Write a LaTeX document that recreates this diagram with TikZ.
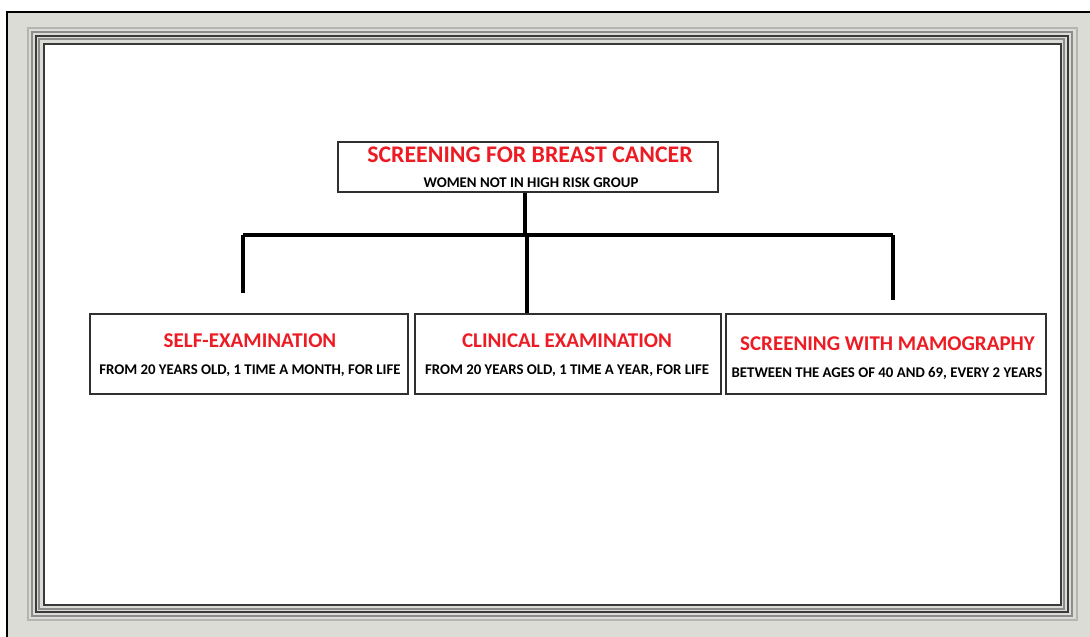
\documentclass[tikz,border=0pt]{standalone}
\usepackage{fontspec}
\setmainfont{Carlito}
\definecolor{headred}{HTML}{ED1C24}
\definecolor{boxline}{HTML}{303030}
\definecolor{framebg}{HTML}{DCDCD6}
\definecolor{framedark}{HTML}{3A3A3A}
\definecolor{framemid}{HTML}{8C8C8C}
\definecolor{framelight}{HTML}{B4B4B0}
\begin{document}
\begin{tikzpicture}[x=1pt,y=-1pt,
  box/.style={draw=boxline, line width=2pt, fill=white, inner sep=0pt},
  ttl/.style={anchor=base, inner sep=0pt, text=headred,
    font=\fontsize{21}{25}\selectfont\bfseries},
  bigttl/.style={ttl, font=\fontsize{23.8}{28}\selectfont\bfseries},
  sub/.style={anchor=base, inner sep=0pt,
    font=\fontsize{14.8}{17}\selectfont\bfseries},
  link/.style={draw=black, line width=3.5pt}]
\useasboundingbox (0,0) rectangle (1090,637);
% page frame
\fill[framebg] (7,12) rectangle (1090,637);
\draw[black, line width=1.2pt] (7,637) -- (7,12) -- (1090,12);
\draw[framelight, line width=1.5pt] (28,28) rectangle (1077,620);
\draw[framemid, line width=1.5pt] (32,32) rectangle (1072,616);
\draw[framedark, line width=1.5pt] (36,36) rectangle (1068,612);
\draw[framemid, line width=1.2pt] (39,39) rectangle (1064,609);
\fill[white] (44,44) rectangle (1061,605);
\draw[framedark, line width=2pt] (44,44) rectangle (1061,605);
% boxes
\node[box, minimum width=380, minimum height=50] (top) at (528,167) {};
\node[box, minimum width=318, minimum height=80] (self) at (249,354) {};
\node[box, minimum width=306, minimum height=80] (clin) at (568,354) {};
\node[box, minimum width=320, minimum height=80] (mamo) at (886,354) {};
% box texts
\node[bigttl] (topT) at (530,162.5) {SCREENING FOR BREAST CANCER};
\node[sub] (topS) at (531,187.7) {WOMEN NOT IN HIGH RISK GROUP};
\node[ttl] (selfT) at (250,347.6) {SELF-EXAMINATION};
\node[sub] (selfS) at (250,374.7) {FROM 20 YEARS OLD, 1 TIME A MONTH, FOR LIFE};
\node[ttl] (clinT) at (567,347.6) {CLINICAL EXAMINATION};
\node[sub] (clinS) at (567,374.7) {FROM 20 YEARS OLD, 1 TIME A YEAR, FOR LIFE};
\node[ttl] (mamoT) at (887.5,350.6) {SCREENING WITH MAMOGRAPHY};
\node[sub] (mamoS) at (887,377.7) {BETWEEN THE AGES OF 40 AND 69, EVERY 2 YEARS};
% connectors
\coordinate (busL) at (243,235);
\coordinate (busR) at (893,235);
\coordinate (busM) at (527,235);
\coordinate (dropL) at (243,293);
\coordinate (dropR) at (893,300);
\draw[link] (top.south -| 525,0) -- (525,235);
\draw[link] (busL) -- (busR);
\draw[link] (busL) -- (dropL);
\draw[link] (busR) -- (dropR);
\draw[link] (busM) -- (busM |- clin.north);
\end{tikzpicture}
\end{document}
